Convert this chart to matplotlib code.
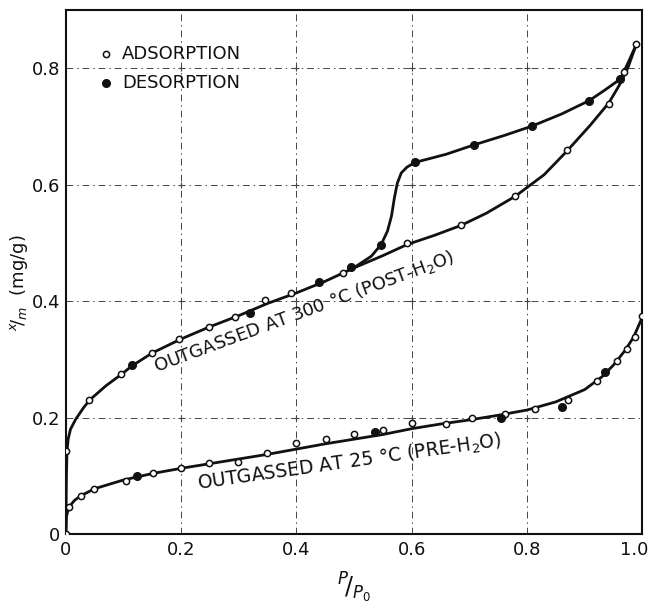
import matplotlib.pyplot as plt
import matplotlib.transforms as mtransforms
import numpy as np

# --- outgassed at 300 C (post-H2O): measured points
hi_ads_x = [0.0, 0.041, 0.096, 0.149, 0.197, 0.248, 0.294, 0.346, 0.391, 0.481,
            0.592, 0.686, 0.780, 0.869, 0.942, 0.969, 0.990]
hi_ads_y = [0.142, 0.231, 0.274, 0.311, 0.335, 0.356, 0.372, 0.401, 0.414, 0.448,
            0.499, 0.530, 0.580, 0.659, 0.738, 0.793, 0.841]
hi_des_x = [0.115, 0.320, 0.439, 0.495, 0.547, 0.606, 0.708, 0.808, 0.908, 0.962]
hi_des_y = [0.291, 0.380, 0.432, 0.458, 0.497, 0.638, 0.668, 0.700, 0.744, 0.781]

# smooth adsorption branch, 300 C
hi_ads_line_x = [0.0, 0.001, 0.002, 0.004, 0.008, 0.017, 0.030, 0.041, 0.070, 0.096,
                 0.115, 0.150, 0.200, 0.250, 0.300, 0.350, 0.400, 0.450, 0.500, 0.550,
                 0.592, 0.640, 0.686, 0.730, 0.780, 0.830, 0.869, 0.910, 0.942, 0.960,
                 0.975, 0.990]
hi_ads_line_y = [0.0, 0.100, 0.142, 0.163, 0.180, 0.197, 0.216, 0.230, 0.255, 0.274,
                 0.289, 0.311, 0.335, 0.356, 0.375, 0.396, 0.414, 0.434, 0.457, 0.478,
                 0.497, 0.513, 0.530, 0.551, 0.580, 0.617, 0.657, 0.702, 0.740, 0.770,
                 0.800, 0.841]
# desorption branch with the hysteresis step near P/P0 = 0.57
hi_des_line_x = [0.990, 0.975, 0.962, 0.935, 0.908, 0.860, 0.808, 0.760, 0.708, 0.660,
                 0.606, 0.592, 0.582, 0.575, 0.570, 0.565, 0.558, 0.547, 0.530, 0.504,
                 0.490]
hi_des_line_y = [0.841, 0.808, 0.781, 0.762, 0.744, 0.721, 0.700, 0.684, 0.668, 0.652,
                 0.638, 0.630, 0.620, 0.602, 0.577, 0.546, 0.520, 0.497, 0.477, 0.460,
                 0.453]

# --- outgassed at 25 C (pre-H2O): measured points
lo_ads_x = [0.0, 0.005, 0.026, 0.049, 0.104, 0.152, 0.200, 0.249, 0.298, 0.349,
            0.400, 0.452, 0.500, 0.550, 0.600, 0.660, 0.705, 0.762, 0.814, 0.871,
            0.921, 0.957, 0.974, 0.987, 1.000]
lo_ads_y = [0.0, 0.046, 0.066, 0.077, 0.092, 0.105, 0.114, 0.122, 0.123, 0.139,
            0.156, 0.164, 0.172, 0.179, 0.191, 0.189, 0.199, 0.206, 0.215, 0.231,
            0.262, 0.298, 0.318, 0.338, 0.374]
lo_des_x = [0.124, 0.536, 0.755, 0.861, 0.936]
lo_des_y = [0.099, 0.176, 0.199, 0.219, 0.278]

lo_line_x = [0.0, 0.001, 0.005, 0.015, 0.026, 0.050, 0.100, 0.150, 0.200, 0.250,
             0.300, 0.350, 0.400, 0.450, 0.500, 0.550, 0.600, 0.650, 0.700, 0.750,
             0.800, 0.850, 0.900, 0.930, 0.950, 0.970, 0.985, 1.000]
lo_line_y = [0.0, 0.030, 0.046, 0.058, 0.066, 0.078, 0.093, 0.104, 0.113, 0.121,
             0.129, 0.137, 0.146, 0.155, 0.163, 0.171, 0.181, 0.189, 0.196, 0.204,
             0.213, 0.227, 0.248, 0.270, 0.290, 0.315, 0.338, 0.372]

ticks = [0.0, 0.2, 0.4, 0.6, 0.8, 1.0]
tick_labels = ["0", "0.2", "0.4", "0.6", "0.8", "1.0"]
yticks = [0.0, 0.2, 0.4, 0.6, 0.8]
ytick_labels = ["0", "0.2", "0.4", "0.6", "0.8"]

fig = plt.figure(figsize=(6.52, 6.07), dpi=100)
ax = fig.add_axes([0.101, 0.120, 0.884, 0.864])

ink = "#111111"
grid_kw = dict(color="#444444", linewidth=0.7, dashes=(7, 4, 1.5, 4), zorder=1)
for g in ticks[1:-1]:
    ax.axvline(g, **grid_kw)
for g in yticks[1:]:
    ax.axhline(g, **grid_kw)
gx, gy = np.meshgrid(ticks[1:-1], yticks[1:])
ax.plot(gx.ravel(), gy.ravel(), "+", color="#444444", markersize=5, mew=0.8, zorder=1)

line_kw = dict(color=ink, linewidth=2.0, solid_capstyle="round", zorder=2)
ax.plot(hi_ads_line_x, hi_ads_line_y, **line_kw)
ax.plot(hi_des_line_x, hi_des_line_y, **line_kw)
ax.plot(lo_line_x, lo_line_y, **line_kw)

open_kw = dict(linestyle="none", marker="o", markersize=4.5, markerfacecolor="white",
               markeredgecolor=ink, markeredgewidth=1.1, zorder=3)
full_kw = dict(linestyle="none", marker="o", markersize=5.5, markerfacecolor=ink,
               markeredgecolor=ink, zorder=3)
ax.plot(hi_ads_x, hi_ads_y, **open_kw)
ax.plot(lo_ads_x, lo_ads_y, **open_kw)
ax.plot(hi_des_x, hi_des_y, **full_kw)
ax.plot(lo_des_x, lo_des_y, **full_kw)

# key drawn as plain markers + text, like a hand-lettered legend
ax.plot([0.07], [0.824], **open_kw)
ax.plot([0.07], [0.775], **full_kw)
ax.text(0.097, 0.824, "ADSORPTION", fontsize=13, va="center", ha="left", color=ink)
ax.text(0.097, 0.775, "DESORPTION", fontsize=13, va="center", ha="left", color=ink)

ax.text(0.156, 0.277, r"OUTGASSED AT 300 °C (POST-H$_2$O)", fontsize=13,
        rotation=20.3, rotation_mode="anchor", ha="left", va="baseline", color=ink)
ax.text(0.229, 0.077, r"OUTGASSED AT 25 °C (PRE-H$_2$O)", fontsize=13.5,
        rotation=8.1, rotation_mode="anchor", ha="left", va="baseline", color=ink)

ax.set_xlim(0, 1.0)
ax.set_ylim(0, 0.9)
ax.set_xticks(ticks)
ax.set_xticklabels(tick_labels)
ax.set_yticks(yticks)
ax.set_yticklabels(ytick_labels)
ax.tick_params(length=0, labelsize=13, colors=ink)
ax.tick_params(axis="x", pad=5)
ax.tick_params(axis="y", pad=4)
for sp in ax.spines.values():
    sp.set_linewidth(1.5)
    sp.set_color(ink)

# keep the last x label inside the figure edge
last = ax.get_xticklabels()[-1]
last.set_transform(last.get_transform() +
                   mtransforms.ScaledTranslation(-6 / 72, 0, fig.dpi_scale_trans))

ax.set_ylabel(r"$^{x}\!/_{m}$  (mg/g)", fontsize=13, color=ink)
ax.yaxis.set_label_coords(-0.062, 0.48)
ax.set_xlabel(r"$^{P}\!/_{P_0}$", fontsize=17, color=ink, labelpad=8)

fig.savefig("out.png", dpi=100)
